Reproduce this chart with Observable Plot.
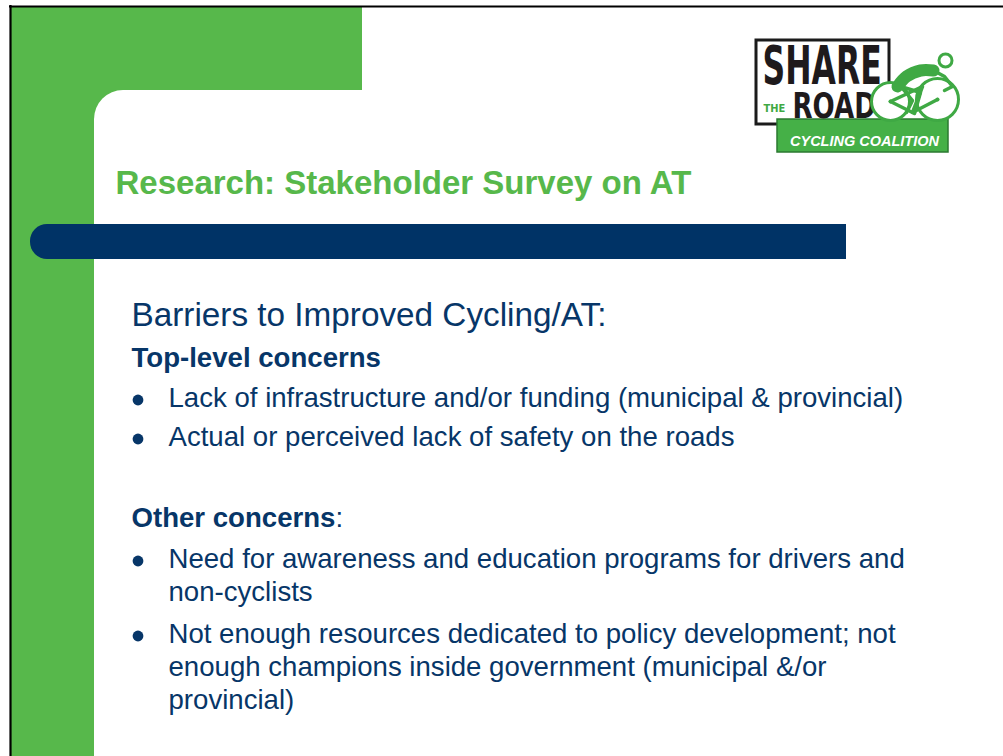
<!DOCTYPE html>
<html><head><meta charset="utf-8">
<script src="https://cdn.jsdelivr.net/npm/d3@7"></script>
<script src="https://cdn.jsdelivr.net/npm/@observablehq/plot@0.6"></script>
<style>html,body{margin:0;padding:0;background:#fff;overflow:hidden}</style>
</head><body><div id="chart"></div>
<script>
// ---- content ----
const slideTitle = "Research: Stakeholder Survey on AT";
const heading = "Barriers to Improved Cycling/AT:";
const groupHeads = ["Top-level concerns", "Other concerns"];
const topConcerns = [
  ["Lack of infrastructure and/or funding (municipal & provincial)"],
  ["Actual or perceived lack of safety on the roads"]
];
const otherConcerns = [
  ["Need for awareness and education programs for drivers and", "non-cyclists"],
  ["Not enough resources dedicated to policy development; not", "enough champions inside government (municipal &/or", "provincial)"]
];
const logoWords = ["SHARE", "THE", "ROAD", "CYCLING COALITION"];

// ---- layout / style ----
const W = 1003, H = 756;
const GREEN = "#57b84b", NAVY = "#003366", INK = "#073668", LOGOGREEN = "#3fa944";
const FONT = "'Liberation Sans', Arial, sans-serif";
const NARROW = "'Liberation Sans Narrow', 'DejaVu Sans Condensed', sans-serif";
const LINE = 33, BODY = 27.6;

// text rows (baseline positions)
const boldRows = [
  {t: groupHeads[0], x: 131, y: 366},
  {t: groupHeads[1], x: 131, y: 526}
];
const rows = [{t: heading, x: 131, y: 325, s: 33.3}];
const bullets = [];
function addBullets(list, y0, gap) {
  let y = y0;
  list.forEach(lines => {
    bullets.push({x: 137.5, y: y - 6.5});
    lines.forEach((ln, k) => rows.push({t: ln, x: 168, y: y + k * LINE, s: BODY}));
    y += (lines.length - 1) * LINE + gap;
  });
}
addBullets(topConcerns, 406, 39);
addBullets(otherConcerns, 567, 42);

// background shapes
const greenBlocks = [
  {x1: 11, x2: 94, y1: 7, y2: H},
  {x1: 11, x2: 362, y1: 7, y2: 90},
  {x1: 11, x2: 130, y1: 7, y2: 130}
];
const whitePanel = [{x1: 94, x2: W + 60, y1: 90, y2: H + 60}];
const barRound = [{x1: 30, x2: 90, y1: 224, y2: 259}];
const barSquare = [{x1: 60, x2: 846, y1: 224, y2: 259}];

// logo pieces
const logoBox = [{x1: 756, x2: 889, y1: 40, y2: 124}];
const logoBand = [{x1: 777, x2: 948, y1: 119, y2: 152}];
const wheels = [{x: 890, y: 101, r: 19}, {x: 937, y: 99, r: 21}];
const hubs = [{x: 890, y: 101, r: 2}, {x: 937, y: 99, r: 2}];
const riderThick = [
  {x: 897, y: 86, z: "torso"}, {x: 906, y: 76, z: "torso"}, {x: 920, y: 70, z: "torso"}, {x: 933, y: 70, z: "torso"}
];
const riderThin = [
  {x: 933, y: 70, z: "arm"}, {x: 944, y: 76, z: "arm"}, {x: 952, y: 86, z: "arm"}, {x: 944, y: 90, z: "arm"},
  {x: 900, y: 86, z: "leg"}, {x: 920, y: 92, z: "leg"}, {x: 914, y: 113, z: "leg"},
  {x: 902, y: 88, z: "leg2"}, {x: 912, y: 100, z: "leg2"}, {x: 906, y: 112, z: "leg2"},
  {x: 890, y: 101, z: "frame"}, {x: 912, y: 112, z: "frame"}, {x: 937, y: 99, z: "frame"},
  {x: 890, y: 101, z: "frame2"}, {x: 922, y: 86, z: "frame2"}, {x: 912, y: 112, z: "frame2"}
];
const head = [{x: 945, y: 60}];

const plot = Plot.plot({
  width: W, height: H,
  margin: 0,
  x: {domain: [0, W], range: [0, W], axis: null},
  y: {domain: [0, H], range: [0, H], axis: null},
  r: {type: "identity"},
  style: {background: "#fff", fontFamily: FONT},
  marks: [
    Plot.rect(greenBlocks, {x1: "x1", x2: "x2", y1: "y1", y2: "y2", fill: GREEN}),
    Plot.rect(whitePanel, {x1: "x1", x2: "x2", y1: "y1", y2: "y2", fill: "#fff", rx: 29}),
    Plot.ruleX([10], {y1: 5, y2: H, stroke: "#000", strokeWidth: 2.2}),
    Plot.ruleY([6], {x1: 9, x2: W, stroke: "#000", strokeWidth: 2.2}),
    Plot.rect(barRound, {x1: "x1", x2: "x2", y1: "y1", y2: "y2", fill: NAVY, rx: 17}),
    Plot.rect(barSquare, {x1: "x1", x2: "x2", y1: "y1", y2: "y2", fill: NAVY}),
    Plot.text([slideTitle], {x: 115, y: 193, text: d => d, fontSize: 33, fontWeight: "bold", fill: GREEN,
      textAnchor: "start", lineAnchor: "bottom", fontFamily: FONT}),
    Plot.text(rows, {x: "x", y: "y", text: "t", fontSize: "s", fill: INK,
      textAnchor: "start", lineAnchor: "bottom", fontFamily: FONT}),
    Plot.text(boldRows, {x: "x", y: "y", text: "t", fontSize: BODY, fontWeight: "bold", fill: INK,
      textAnchor: "start", lineAnchor: "bottom", fontFamily: FONT}),
    Plot.dot(bullets, {x: "x", y: "y", r: 5.4, fill: INK, stroke: null}),
    // logo
    Plot.rect(logoBox, {x1: "x1", x2: "x2", y1: "y1", y2: "y2", fill: "#fff", stroke: "#1b1b1b", strokeWidth: 3}),
    Plot.rect(logoBand, {x1: "x1", x2: "x2", y1: "y1", y2: "y2", fill: "#45b047", stroke: "#2b7a30", strokeWidth: 1.5}),
    Plot.text([logoWords[0]], {x: 762, y: 83, text: d => d, fontSize: 35, fontWeight: "bold", fontFamily: NARROW,
      fill: "#1e1a1c", textAnchor: "start", lineAnchor: "bottom"}),
    Plot.text([logoWords[1]], {x: 763, y: 111, text: d => d, fontSize: 11, fontWeight: "bold", fontFamily: NARROW,
      fill: LOGOGREEN, textAnchor: "start", lineAnchor: "bottom"}),
    Plot.text([logoWords[2]], {x: 792, y: 117.5, text: d => d, fontSize: 29, fontWeight: "bold", fontFamily: NARROW,
      fill: "#1e1a1c", textAnchor: "start", lineAnchor: "bottom"}),
    Plot.text([logoWords[3]], {x: 864, y: 145, text: d => d, fontSize: 14.5, fontWeight: "bold", fontStyle: "italic",
      fontFamily: FONT, fill: "#fff", textAnchor: "middle", lineAnchor: "bottom"}),
    Plot.dot(wheels, {x: "x", y: "y", r: "r", fill: "#fff", stroke: LOGOGREEN, strokeWidth: 3}),
    Plot.dot(hubs, {x: "x", y: "y", r: "r", fill: LOGOGREEN}),
    Plot.line(riderThin, {x: "x", y: "y", z: "z", stroke: LOGOGREEN, strokeWidth: 3.5, curve: "linear", strokeLinecap: "round", strokeLinejoin: "round"}),
    Plot.line(riderThick, {x: "x", y: "y", z: "z", stroke: LOGOGREEN, strokeWidth: 12, curve: "catmull-rom", strokeLinecap: "round"}),
    Plot.dot(head, {x: "x", y: "y", r: 6.5, fill: "#fff", stroke: LOGOGREEN, strokeWidth: 3})
  ]
});
document.getElementById("chart").append(plot);

const svg = d3.select(plot);
// colon after "Other concerns" in regular weight
svg.selectAll("text").filter(function() { return this.textContent === groupHeads[1]; })
  .append("tspan").attr("font-weight", "normal").text(":");
// make the logo lettering taller (condensed display type)
function stretch(word, k) {
  svg.selectAll("text").filter(function() { return this.textContent === word; }).each(function() {
    const t = this.getAttribute("transform");
    if (t) this.setAttribute("transform", t + ` scale(1,${k})`);
    else {
      const x = this.getAttribute("x") || 0, y = this.getAttribute("y") || 0;
      this.setAttribute("x", 0); this.setAttribute("y", 0);
      this.setAttribute("transform", `translate(${x},${y}) scale(1,${k})`);
    }
  });
}
stretch(logoWords[0], 1.5);
stretch(logoWords[2], 1.2);
</script></body></html>
